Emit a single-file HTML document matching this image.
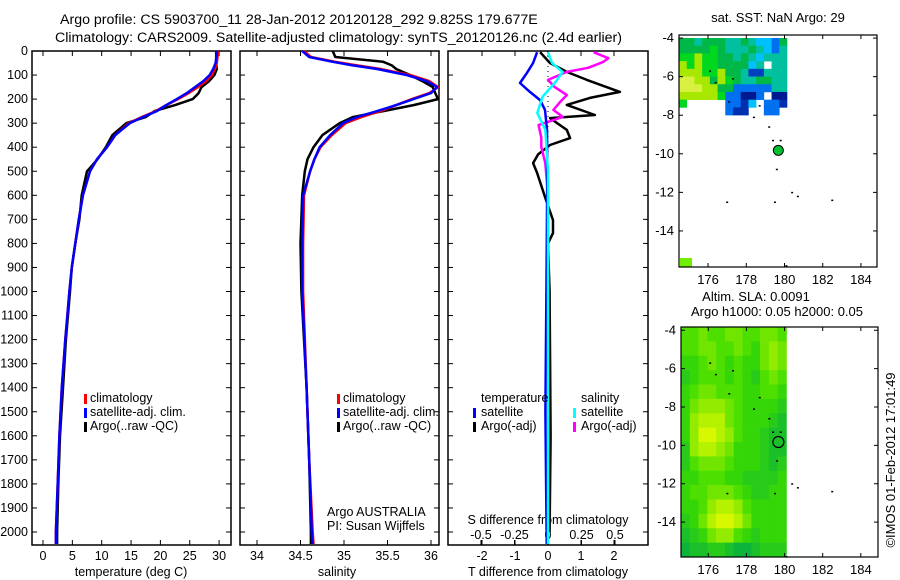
<!DOCTYPE html>
<html><head><meta charset="utf-8">
<style>
body{margin:0;background:#fff;}
svg{display:block;font-family:"Liberation Sans",sans-serif;}
text{fill:#000;}
</style></head>
<body>
<svg id="fig" width="900" height="580" viewBox="0 0 900 580" xmlns="http://www.w3.org/2000/svg">
<text x="60" y="24" font-size="14.2" text-anchor="start">Argo profile: CS 5903700_11 28-Jan-2012 20120128_292 9.825S 179.677E</text>
<text x="55" y="42" font-size="14.2" text-anchor="start">Climatology: CARS2009. Satellite-adjusted climatology: synTS_20120126.nc (2.4d earlier)</text>
<g id="g"></g>
<text transform="translate(895,460) rotate(-90)" font-size="13" text-anchor="middle">©IMOS 01-Feb-2012 17:01:49</text>
</svg>
<script>
// ---------- DATA ----------
const depthTicks=[0,100,200,300,400,500,600,700,800,900,1000,1100,1200,1300,1400,1500,1600,1700,1800,1900,2000];
const tempTicks=[0,5,10,15,20,25,30];
const salTicks=[34,34.5,35,35.5,36];
const tdiffTicks=[-2,-1,0,1,2];
const sdiffTicks=[-0.5,-0.25,0,0.25,0.5];
const sdiffLabels=["-0.5","-0.25","0","0.25","0.5"];

const depthT=[0,10,50,75,100,125,150,175,200,225,250,275,300,350,400,450,500,600,700,800,900,1000,1200,1400,1600,1800,2000,2050];
const tempClim=[29.8,29.8,29.6,29.3,28.8,27.8,26.4,24.8,23.0,21.0,19.2,16.8,14.6,12.3,10.9,9.2,8.0,6.8,6.1,5.5,4.9,4.5,3.8,3.2,2.8,2.5,2.2,2.2];
const tempSat=[29.6,29.6,29.4,29.0,28.4,27.3,25.9,24.5,22.8,21.0,19.4,17.0,14.8,12.3,10.9,9.2,8.0,6.8,6.1,5.5,4.9,4.5,3.8,3.2,2.8,2.5,2.2,2.2];
const tempArgo=[29.5,29.5,29.5,29.6,29.2,28.3,27.0,26.5,25.5,22.5,19.0,17.5,14.2,11.8,10.7,9.3,7.5,6.6,6.2,5.5,4.9,4.6,3.9,3.4,2.9,2.6,2.4,2.4];

const depthS=[0,25,45,60,75,100,125,150,175,200,225,250,275,300,350,400,450,500,600,800,1000,1400,1700,2000,2050];
const salClim=[34.54,34.62,34.9,35.15,35.42,35.76,35.98,36.08,35.98,35.78,35.6,35.42,35.2,35.02,34.86,34.73,34.66,34.61,34.54,34.53,34.53,34.57,34.6,34.64,34.65];
const salSat=[34.52,34.6,34.87,35.1,35.38,35.72,35.95,36.07,36.0,35.8,35.6,35.38,35.15,34.99,34.84,34.72,34.66,34.61,34.53,34.52,34.52,34.57,34.6,34.63,34.64];
const salArgo=[34.87,34.9,35.45,35.55,35.6,35.76,35.9,36.02,36.05,36.08,35.8,35.45,35.1,34.95,34.75,34.65,34.58,34.55,34.52,34.5,34.51,34.57,34.6,34.62,34.62];

const depthTdSat=[5,50,91,133,170,204,245,328,500,1000,1500,2050];
const tdSat=[-0.33,-0.45,-0.64,-0.85,-0.55,-0.24,-0.09,-0.03,-0.02,-0.05,-0.08,-0.04];
const depthSdSat=[5,50,87,133,190,258,328,500,1000,2050];
const sdSat=[0,0.03,0.11,0.05,-0.04,-0.08,-0.02,0,0,0];
const depthSdArgo=[5,30,46,70,87,120,150,183,212,245,274,308,360,399,466,600,1000,2000];
const sdArgo=[0.34,0.45,0.41,0.3,0.14,0,0.05,0.14,0.09,0.04,0.11,-0.07,-0.05,-0.05,-0.02,0,0,0];
const depthTdArgo=[5,50,87,120,170,195,224,266,279,328,362,391,430,466,507,607,703,757,800,1000,1600,2000];
const tdArgo=[-0.24,0.06,0.57,1.18,2.18,1.27,0.57,1.42,0.06,0.57,0.67,0.06,-0.3,-0.45,-0.33,-0.09,0.15,0.15,0.0,0.05,0.08,0.05];

// map data
const latTicks=[-4,-6,-8,-10,-12,-14];
const lonTicks=[176,178,180,182,184];
const sstRows=[
"ggcgggccgcllbg",
"ggggGgcccgclbc",
"GGyGGggcgclccc",
"yGyGGgggglcwcc",
"yyyGGyggcBBccc",
"YYyygyGgccggcc",
"YYYyyggbbbbbcc",
"yyyyyGbbNNbwNN",
"Gwwwwwbbnlwbbn",
"wwwwwwbnnwwbbw"];
const slaRows=[
[5,5,6,5,5,6,6,5,5,6,6,5],
[5,5,6,6,5,5,6,5,4,6,7,6],
[4,4,5,6,5,4,5,4,4,6,7,6],
[3,4,5,5,5,4,5,4,3,5,6,5],
[4,5,6,6,5,5,5,4,4,5,5,4],
[4,6,7,7,7,6,5,4,4,4,4,3],
[4,7,8,8,8,6,5,4,4,4,3,2],
[4,7,9,9,8,7,5,4,4,3,2,2],
[3,7,8,8,7,6,4,4,4,3,2,2],
[3,5,6,6,6,5,4,4,4,3,2,3],
[4,4,5,5,5,4,4,3,3,3,3,4],
[4,5,5,6,6,6,5,4,3,3,4,4],
[4,4,5,7,8,8,7,5,4,4,4,4],
[3,4,6,8,9,9,8,6,4,4,4,4],
[2,3,4,6,7,7,5,4,3,4,4,4],
[1,2,2,3,3,2,1,1,2,3,3,3]];
const islandLon=[176.1,176.4,177.3,177.1,178.4,178.7,179.2,179.4,179.8,179.6,180.4,180.7,182.5,177.0,179.5,180.1];
const islandLat=[-5.7,-6.3,-6.1,-7.3,-8.1,-7.5,-8.6,-9.3,-9.3,-10.8,-12.0,-12.2,-12.4,-12.5,-12.5,-15.8];
const argoLon=179.677, argoLat=-9.825;

// ---------- DRAW ----------
const NS="http://www.w3.org/2000/svg";
const G=document.getElementById('g');
function mk(tag,attrs,parent){const e=document.createElementNS(NS,tag);for(const k in attrs)e.setAttribute(k,attrs[k]);(parent||G).appendChild(e);return e;}
function txt(x,y,s,size,anchor,parent){const t=mk('text',{x:x,y:y,'font-size':size,'text-anchor':anchor||'start'},parent);t.textContent=s;return t;}

const yTop=51,yBot=545;
const yD=d=>yTop+d*0.2405;
const xT=v=>43+v*5.87;
const xS=v=>257+(v-34)*87;
const xTd=v=>548+v*33;
const xSd=v=>548+v*134;

function frame(x0,x1,name){
  const r=mk('rect',{x:x0,y:yTop,width:x1-x0,height:yBot-yTop,fill:'none',stroke:'#000','stroke-width':1.5});
  
  
  depthTicks.forEach(d=>{mk('line',{x1:x0,x2:x0+5,y1:yD(d),y2:yD(d),stroke:'#000'});mk('line',{x1:x1-5,x2:x1,y1:yD(d),y2:yD(d),stroke:'#000'});});
}
function line(xs,ds,fx,color,name){
  let p='';for(let i=0;i<xs.length;i++){p+=(i?'L':'M')+fx(xs[i]).toFixed(1)+','+yD(ds[i]).toFixed(1);}
  const e=mk('path',{d:p,fill:'none',stroke:color,'stroke-width':2.5,'stroke-linejoin':'round'});
  
  
}
depthTicks.forEach(d=>{const t=txt(28,yD(d)+4,String(d),12.5,'end');});

// panel 1
frame(32,231,'temperature-panel');
tempTicks.forEach(v=>{mk('line',{x1:xT(v),x2:xT(v),y1:yBot,y2:yBot-5,stroke:'#000'});mk('line',{x1:xT(v),x2:xT(v),y1:yTop,y2:yTop+5,stroke:'#000'});
 const t=txt(xT(v),560,String(v),12.5,'middle');});
txt(131,576,'temperature (deg C)',12.5,'middle');
line(tempArgo,depthT,xT,'#000','temperature-argo-line');
line(tempClim,depthT,xT,'#f00','temperature-climatology-line');
line(tempSat,depthT,xT,'#00f','temperature-satellite-line');

// panel 2
frame(240,439,'salinity-panel');
salTicks.forEach(v=>{mk('line',{x1:xS(v),x2:xS(v),y1:yBot,y2:yBot-5,stroke:'#000'});mk('line',{x1:xS(v),x2:xS(v),y1:yTop,y2:yTop+5,stroke:'#000'});
 const t=txt(xS(v),560,String(v),12.5,'middle');});
txt(337,576,'salinity',12.5,'middle');
line(salArgo,depthS,xS,'#000','salinity-argo-line');
line(salClim,depthS,xS,'#f00','salinity-climatology-line');
line(salSat,depthS,xS,'#00f','salinity-satellite-line');
txt(327,516,'Argo AUSTRALIA',12.5);
txt(327,530,'PI: Susan Wijffels',12.5);

[[84,90],[337,343]].forEach((p,j)=>{
  [['#f00','climatology'],['#00f','satellite-adj. clim.'],['#000','Argo(..raw -QC)']].forEach((it,i)=>{
    const y=402+i*14;
    const b=mk('rect',{x:p[0],y:y-8,width:3,height:10,fill:it[0]});
    
    
    const t=txt(p[1],y,it[1],12.5);
    
    
  });
});

// panel 3
frame(448,648,'difference-panel');
mk('line',{x1:548,x2:548,y1:yTop,y2:yBot,stroke:'#000','stroke-dasharray':'1,4'});
tdiffTicks.forEach(v=>{mk('line',{x1:xTd(v),x2:xTd(v),y1:yBot,y2:yBot-5,stroke:'#000'});mk('line',{x1:xTd(v),x2:xTd(v),y1:yTop,y2:yTop+5,stroke:'#000'});
 const t=txt(xTd(v),560,String(v),12.5,'middle');});
sdiffTicks.forEach((v,i)=>{mk('line',{x1:xSd(v),x2:xSd(v),y1:yBot,y2:yBot-5,stroke:'#000'});
 const t=txt(xSd(v),539,sdiffLabels[i],12.5,'middle');});
txt(548,524,'S difference from climatology',12.5,'middle');
txt(548,576,'T difference from climatology',12.5,'middle');
line(tdArgo,depthTdArgo,xTd,'#000','tdiff-argo-line');
line(sdArgo,depthSdArgo,xSd,'#f0f','sdiff-argo-line');
line(tdSat,depthTdSat,xTd,'#00f','tdiff-satellite-line');
line(sdSat,depthSdSat,xSd,'#0ff','sdiff-satellite-line');
txt(481,402,'temperature',12.5);
txt(581,402,'salinity',12.5);
[[473,481,'#00f','satellite'],[473,481,'#000','Argo(-adj)'],[573,581,'#0ff','satellite'],[573,581,'#f0f','Argo(-adj)']].forEach((it,i)=>{
  const y=416+(i%2)*14;
  const b=mk('rect',{x:it[0],y:y-8,width:3,height:10,fill:it[2]});
  
  
  const t=txt(it[1],y,it[3],12.5);
  
  
});

// ---------- maps ----------
function mapFrame(x0,x1,y0,y1,lonL,lonR,latT,latB,name){
  const fx=l=>x0+(l-lonL)/(lonR-lonL)*(x1-x0);
  const fy=l=>y0+(latT-l)/(latT-latB)*(y1-y0);
  return {x0,x1,y0,y1,fx,fy,name};
}
function mapAxes(m){
  const r=mk('rect',{x:m.x0,y:m.y0,width:m.x1-m.x0,height:m.y1-m.y0,fill:'none',stroke:'#000','stroke-width':1.2});
  
  
  latTicks.forEach(l=>{const y=m.fy(l);mk('line',{x1:m.x0,x2:m.x0+4,y1:y,y2:y,stroke:'#000'});mk('line',{x1:m.x1-4,x2:m.x1,y1:y,y2:y,stroke:'#000'});
    const t=txt(m.x0-5,y+4,String(l),13,'end');});
  lonTicks.forEach(l=>{const x=m.fx(l);mk('line',{x1:x,x2:x,y1:m.y0,y2:m.y0+4,stroke:'#000'});mk('line',{x1:x,x2:x,y1:m.y1-4,y2:m.y1,stroke:'#000'});
    const t=txt(x,m.y1+17,String(l),13,'middle');});
}
function islands(m){
  islandLon.forEach((l,i)=>{const d=mk('rect',{x:m.fx(l)-1,y:m.fy(islandLat[i])-0.5,width:2,height:1.5,fill:'#000'});
    });
}

const m1=mapFrame(679,877,35,267,174.48,184.84,-3.84,-15.87,'sst-map-frame');
const sstColors={g:'#00b848',G:'#00d820',y:'#a8e800',Y:'#d8f040',c:'#00c0a0',b:'#0070f0',B:'#0040c0',N:'#001890',n:'#0030b0',l:'#00c0ff'};
const cw=108/14, chh=(112-38)/9.6;
sstRows.forEach((row,r)=>{[...row].forEach((ch,c)=>{
  if(!sstColors[ch])return;
  const e=mk('rect',{x:m1.x0+c*cw,y:38+r*chh,width:cw+0.3,height:chh+0.3,fill:sstColors[ch]});
  
  
});});
const sq=mk('rect',{x:680,y:258,width:12,height:9,fill:'#70f000'});

islands(m1);mapAxes(m1);
const c1=mk('circle',{cx:m1.fx(argoLon),cy:m1.fy(argoLat),r:5,fill:'#00c030',stroke:'#000','stroke-width':1});

txt(778,22,'sat. SST: NaN Argo: 29',13,'middle');

const m2=mapFrame(681,878,327,557,174.57,184.9,-3.83,-15.82,'sla-map-frame');
function slaColor(v){const t=v/9;let a,b,f;
  const c0=[0,168,74],c1=[60,220,0],c2=[216,248,0];
  if(t<0.5){a=c0;b=c1;f=t/0.5;}else{a=c1;b=c2;f=(t-0.5)/0.5;}
  return 'rgb('+a.map((x,i)=>Math.round(x+(b[i]-x)*f)).join(',')+')';}
const sx0=m2.fx(174.57), sx1=m2.fx(180.1), sw=(sx1-sx0)/12, sh=(557-327)/16;
slaRows.forEach((row,r)=>row.forEach((v,c)=>{
  const e=mk('rect',{x:sx0+c*sw,y:327+r*sh,width:sw+0.3,height:sh+0.3,fill:slaColor(v)});
  
  
}));
islands(m2);mapAxes(m2);
const c2=mk('circle',{cx:m2.fx(argoLon),cy:m2.fy(argoLat),r:5.5,fill:'none',stroke:'#000','stroke-width':1.2});

txt(756,301,'Altim. SLA: 0.0091',13,'middle');
txt(777,316,'Argo h1000: 0.05 h2000: 0.05',13,'middle');
</script>
</body></html>
